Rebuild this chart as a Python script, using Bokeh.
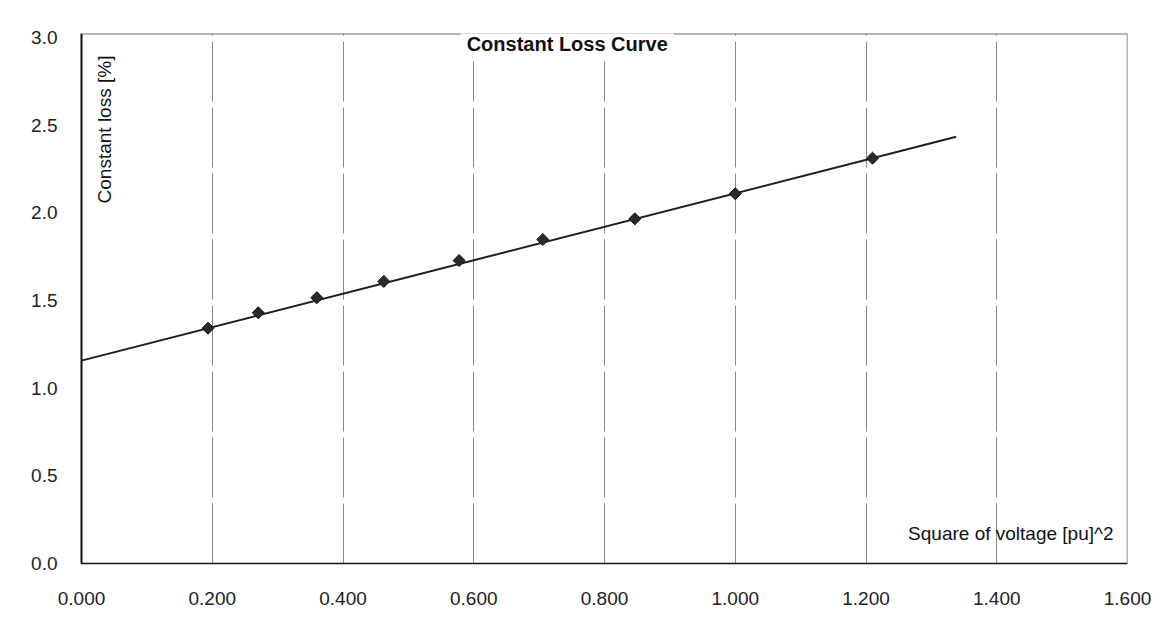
import numpy as np
from bokeh.plotting import figure
from bokeh.models import Range1d, FixedTicker, PrintfTickFormatter, Label, ColumnDataSource, Span
from bokeh.embed import file_html
from bokeh.resources import INLINE

# ---- data ----
voltage_sq = [0.1936, 0.2704, 0.3600, 0.4624, 0.5776, 0.7056, 0.8464, 1.0000, 1.2100]
constant_loss = [1.342, 1.430, 1.516, 1.609, 1.728, 1.848, 1.966, 2.109, 2.312]
trend_x = [0.0, 1.338]
trend_y = [1.157, 2.434]
x_ticks = [0.0, 0.2, 0.4, 0.6, 0.8, 1.0, 1.2, 1.4, 1.6]
y_ticks = [0.0, 0.5, 1.0, 1.5, 2.0, 2.5, 3.0]
title_text = "Constant Loss Curve"
x_label_text = "Square of voltage [pu]^2"
y_label_text = "Constant loss [%]"

FONT = "Liberation Sans"
Y_TOP = 3.023   # plot-area top sits a few pixels above the 3.0 tick

p = figure(width=1161, height=631,
           x_range=Range1d(0, 1.6), y_range=Range1d(0, Y_TOP),
           output_backend="svg", toolbar_location=None,
           min_border_left=81, min_border_right=34,
           min_border_top=33, min_border_bottom=68)

p.background_fill_color = "white"
p.border_fill_color = "white"
p.outline_line_color = None

# axes
p.xaxis.ticker = FixedTicker(ticks=x_ticks)
p.yaxis.ticker = FixedTicker(ticks=y_ticks)
p.xaxis.formatter = PrintfTickFormatter(format="%.3f")
p.yaxis.formatter = PrintfTickFormatter(format="%.1f")
for ax in (p.xaxis, p.yaxis):
    ax.major_tick_line_color = None
    ax.minor_tick_line_color = None
    ax.major_tick_out = 0
    ax.major_tick_in = 0
    ax.axis_line_color = "#111111"
    ax.major_label_text_font = FONT
    ax.major_label_text_font_size = "19px"
    ax.major_label_text_color = "#222222"
p.yaxis.axis_line_width = 2
p.xaxis.axis_line_width = 1.5
p.yaxis.major_label_standoff = 24
p.xaxis.major_label_standoff = 28

# grid: vertical only
p.xgrid.ticker = FixedTicker(ticks=x_ticks)
p.xgrid.grid_line_color = "#8a8a8a"
p.xgrid.grid_line_width = 1
p.xgrid.grid_line_dash = "60 6"
p.ygrid.visible = False

# plot-area border (top and right), drawn before the title so the title covers it
p.add_layout(Span(location=Y_TOP, dimension="width", line_color="#6e6e6e", line_width=2))
p.add_layout(Span(location=1.6, dimension="height", line_color="#6e6e6e", line_width=1.5))

# trend line and points
p.line(trend_x, trend_y, line_color="#1e1e1e", line_width=2)
src = ColumnDataSource(dict(x=voltage_sq, y=constant_loss))
p.scatter("x", "y", source=src, marker="square", angle=np.pi / 4, size=8.5,
          fill_color="#2a2a2a", line_color="#111111", line_width=1)

# title sitting on the top border
p.add_layout(Label(x=0.743, y=2.962, text=title_text, text_align="center",
                   text_baseline="middle", text_font=FONT, text_font_size="20px",
                   text_font_style="bold", text_color="#111111",
                   background_fill_color="white", background_fill_alpha=1.0,
                   padding=6))

# y label inside the plot, rotated
p.add_layout(Label(x=0.0352, y=2.897, text=y_label_text, angle=np.pi / 2,
                   text_align="right", text_baseline="middle", text_font=FONT,
                   text_font_size="19px", text_color="#111111"))

# x label inside the plot, bottom right
p.add_layout(Label(x=1.5786, y=0.171, text=x_label_text, text_align="right",
                   text_baseline="middle", text_font=FONT, text_font_size="19px",
                   text_color="#111111"))

open("out.html", "w").write(file_html(p, INLINE))
